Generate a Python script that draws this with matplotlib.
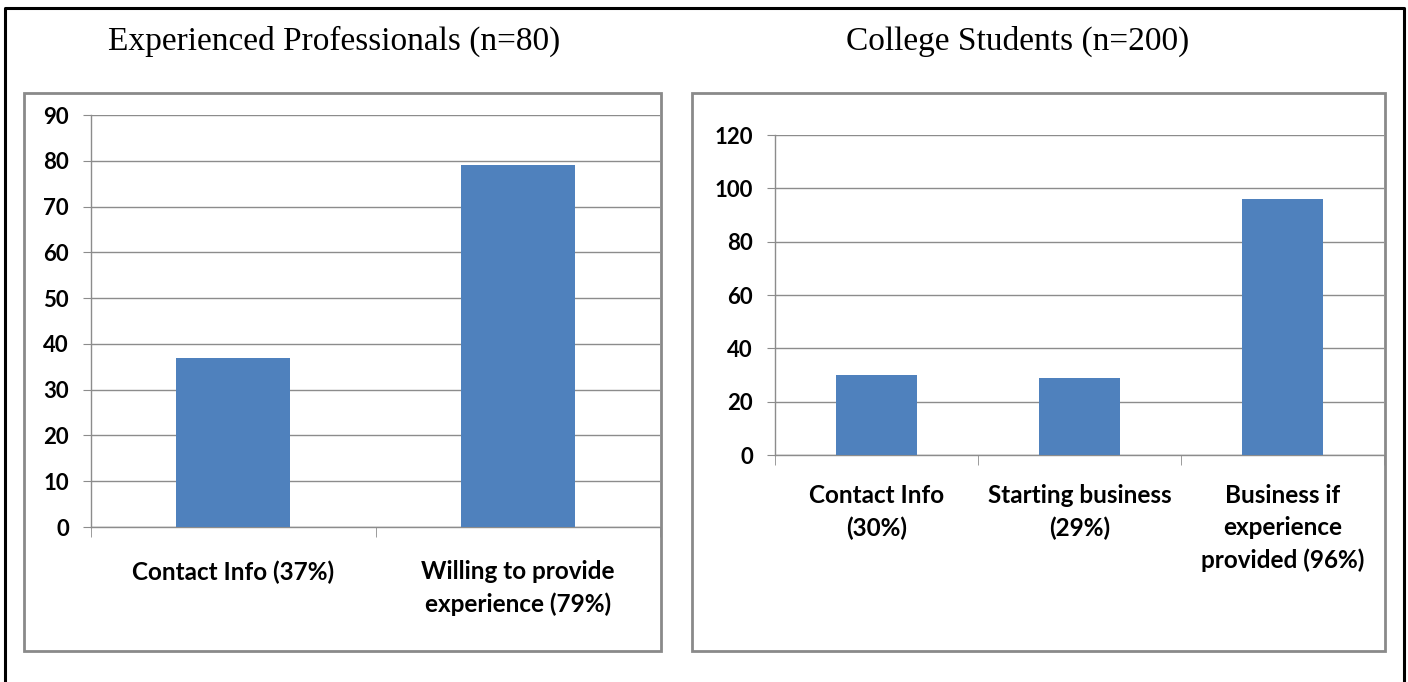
import matplotlib
matplotlib.use("Agg")
import matplotlib.pyplot as plt
from matplotlib.patches import Rectangle
from matplotlib.lines import Line2D

# data
pro_labels = ["Contact Info (37%)", "Willing to provide\nexperience (79%)"]
pro_values = [37, 79]
pro_ticks = [0, 10, 20, 30, 40, 50, 60, 70, 80, 90]

stu_labels = ["Contact Info\n(30%)", "Starting business\n(29%)", "Business if\nexperience\nprovided (96%)"]
stu_values = [30, 29, 96]
stu_ticks = [0, 20, 40, 60, 80, 100, 120]

W, H = 1408, 682
BAR = "#4F81BD"
GRID = "#8C8C8C"
LABEL_FONT = "Lato"
TITLE_FONT = "Liberation Serif"


def fx(px):
  return px / W


def fy(py):
  return 1 - py / H


def draw_panel(fig, box, plot, title, title_xy, labels, values, ticks, xpad):
  # gray frame around the chart
  x0, y0, x1, y1 = box
  fig.patches.append(Rectangle((fx(x0), fy(y1)), fx(x1 - x0), (y1 - y0) / H,
                               transform=fig.transFigure, fill=False,
                               edgecolor="#8A8A8A", linewidth=2))
  fig.text(fx(title_xy[0]), fy(title_xy[1]), title, ha="center", va="center",
           fontsize=24, family=TITLE_FONT)

  l, t, r, b = plot
  ax = fig.add_axes([fx(l), fy(b), fx(r - l), (b - t) / H])
  n = len(values)
  ax.bar(range(n), values, width=0.4, color=BAR, zorder=3)
  ax.set_xlim(-0.5, n - 0.5)
  ax.set_ylim(ticks[0], ticks[-1])
  ax.set_yticks(ticks)
  ax.yaxis.grid(True, color=GRID, linewidth=1)
  ax.set_axisbelow(True)

  ax.set_xticks(range(n))
  ax.set_xticklabels(labels, fontsize=17.5, family=LABEL_FONT, fontweight="bold",
                     linespacing=1.48)
  ax.set_xticks([i - 0.5 for i in range(n + 1)], minor=True)
  ax.tick_params(axis="x", which="major", length=0, pad=xpad)
  ax.tick_params(axis="x", which="minor", length=7, color=GRID, direction="out")
  ax.tick_params(axis="y", length=6, color=GRID, pad=10)
  for lab in ax.get_yticklabels():
    lab.set_fontsize(16)
    lab.set_family(LABEL_FONT)
    lab.set_fontweight("bold")

  for s in ["top", "right"]:
    ax.spines[s].set_visible(False)
  for s in ["left", "bottom"]:
    ax.spines[s].set_color(GRID)
    ax.spines[s].set_linewidth(1)
  return ax


fig = plt.figure(figsize=(W / 100, H / 100), dpi=100)

# outer black frame (top, left, right)
fig.lines.append(Line2D([fx(5), fx(5), fx(1404), fx(1404)], [0, fy(8), fy(8), 0],
                        transform=fig.transFigure, color="black", linewidth=2.2))

draw_panel(fig, (24, 93, 661, 651), (91, 115, 660, 527),
           "Experienced Professionals (n=80)", (334, 41),
           pro_labels, pro_values, pro_ticks, xpad=24)
draw_panel(fig, (692, 93, 1385, 651), (775, 135, 1384, 455),
           "College Students (n=200)", (1018, 41),
           stu_labels, stu_values, stu_ticks, xpad=21)

fig.savefig("out.png", dpi=100)
